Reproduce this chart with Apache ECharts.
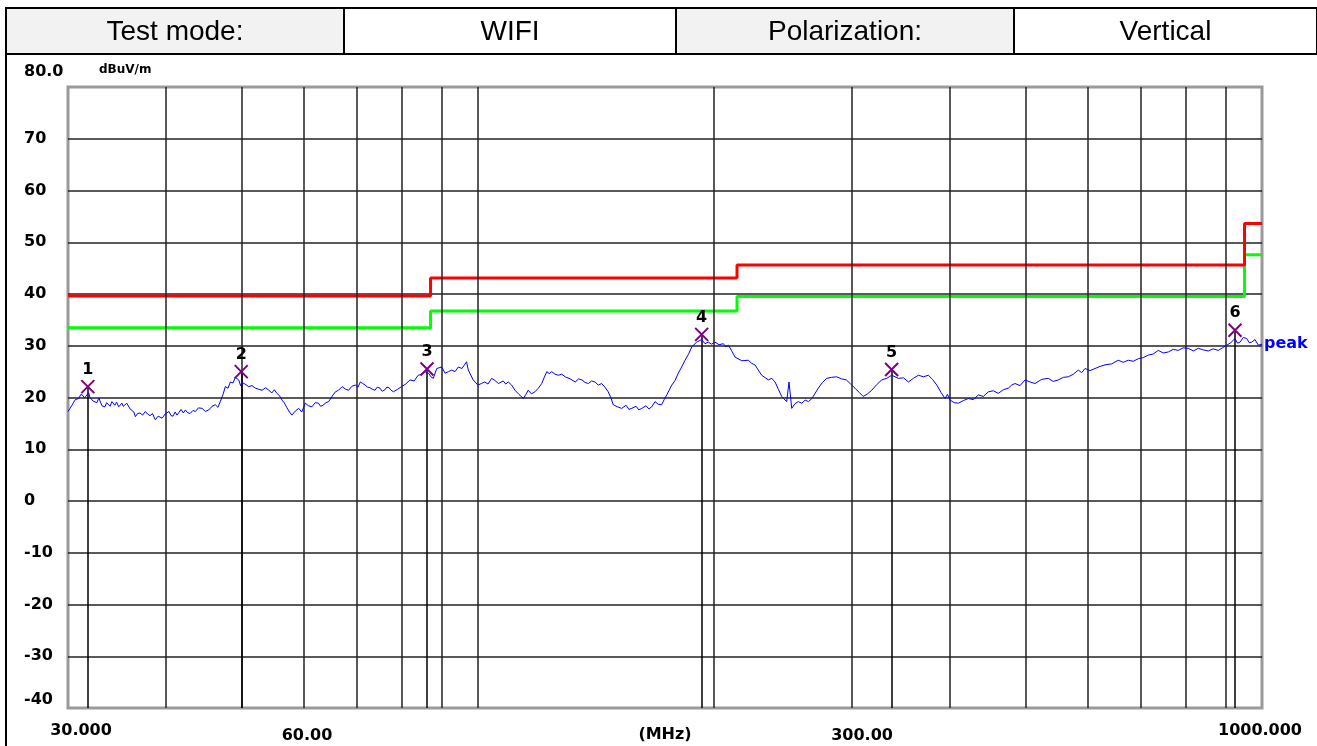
<!DOCTYPE html>
<html>
<head>
<meta charset="utf-8">
<title>Radiated emission - vertical</title>
<script src="https://cdn.jsdelivr.net/npm/echarts@6/dist/echarts.min.js"></script>
<style>
	html, body { margin: 0; padding: 0; background: #fff; }
	#main { width: 1317px; height: 746px; }
</style>
</head>
<body>
<div id="main"></div>
<script>
// header table
var headTexts = ['Test mode:', 'WIFI', 'Polarization:', 'Vertical'];

// axes
var yTicks = [80, 70, 60, 50, 40, 30, 20, 10, 0, -10, -20, -30, -40];
var xTickFreq = [30, 60, 300, 1000];
var xTickText = ['30.000', '60.00', '300.00', '1000.000'];
var gridFreq = [40, 50, 60, 70, 80, 90, 100, 200, 300, 400, 500, 600, 700, 800, 900];

// limit lines (red = limit, green = margin)
var limitFreq = [30, 87, 87, 214, 214, 950, 950, 1000];
var redLimit = [39.6, 39.6, 43.1, 43.1, 45.6, 45.6, 53.6, 53.6];
var greenLimit = [33.5, 33.5, 36.7, 36.7, 39.5, 39.5, 47.6, 47.6];

// peak trace, MHz / dBuV/m
var traceFreq = [
	30.0, 30.18, 30.35, 30.65, 30.96, 31.15, 31.34, 31.48, 31.62, 31.88,
	32.0, 32.15, 32.3, 32.45, 32.65, 32.85, 33.0, 33.15, 33.44, 33.6,
	33.74, 33.95, 34.13, 34.43, 34.6, 34.82, 35.15, 35.3, 35.46, 35.65,
	35.86, 36.0, 36.21, 36.4, 36.57, 36.8, 37.06, 37.35, 37.65, 37.9,
	38.17, 38.45, 38.77, 39.1, 39.55, 39.9, 40.35, 40.6, 40.84, 41.1,
	41.32, 41.55, 41.81, 42.1, 42.35, 42.6, 42.93, 43.3, 43.61, 44.0,
	44.48, 44.9, 45.36, 45.8, 46.24, 46.6, 46.92, 47.3, 47.62, 48.0,
	48.33, 48.7, 49.04, 49.3, 49.53, 49.8, 50.0, 50.45, 50.7, 51.0,
	51.5, 52.0, 52.5, 53.05, 53.6, 54.1, 54.6, 55.0, 55.4, 55.8,
	56.25, 56.6, 57.07, 57.5, 57.9, 58.5, 59.06, 59.6, 60.23, 60.8,
	61.4, 62.0, 62.6, 63.0, 63.44, 64.0, 64.5, 65.2, 65.8, 66.4,
	67.1, 67.8, 68.4, 69.1, 69.75, 70.3, 70.8, 71.3, 71.8, 72.3,
	72.8, 73.3, 73.9, 74.4, 75.0, 75.5, 76.1, 76.5, 77.0, 77.5,
	78.0, 79.0, 79.9, 80.9, 81.9, 82.9, 83.9, 84.8, 85.6, 86.6,
	87.1, 87.7, 88.6, 89.9, 90.8, 91.7, 92.6, 93.5, 94.4, 95.4,
	96.0, 96.7, 97.2, 98.6, 100.0, 101.0, 102.0, 103.0, 104.1, 105.1,
	106.2, 107.7, 108.5, 109.3, 110.4, 111.5, 112.8, 114.3, 115.1, 115.9,
	117.0, 118.2, 119.4, 120.6, 121.5, 122.4, 123.3, 124.2, 125.4, 126.6,
	127.9, 129.2, 131.1, 133.1, 134.4, 135.7, 137.0, 138.3, 139.6, 141.0,
	142.4, 143.8, 145.2, 146.6, 147.7, 148.8, 150.6, 152.5, 154.5, 155.8,
	157.1, 159.1, 160.4, 161.8, 163.8, 165.2, 166.6, 168.2, 169.8, 171.5,
	172.8, 174.1, 176.7, 178.4, 180.1, 181.9, 183.7, 185.5, 187.4, 190.1,
	192.9, 194.8, 196.7, 198.6, 200.6, 203.0, 205.6, 207.0, 208.7, 210.7,
	212.8, 217.0, 221.2, 223.4, 225.6, 227.8, 230.1, 234.6, 237.0, 239.3,
	241.6, 244.0, 247.6, 249.3, 251.3, 253.7, 256.2, 258.8, 261.4, 264.0,
	266.6, 271.7, 275.0, 278.5, 282.6, 286.8, 290.9, 295.0, 298.8, 302.6,
	306.3, 310.0, 313.9, 317.9, 322.6, 327.4, 332.2, 337.1, 343.7, 349.0,
	354.0, 359.2, 364.5, 370.0, 375.4, 380.0, 384.8, 389.5, 394.2, 397.0,
	400.0, 405.0, 409.9, 416.0, 422.1, 428.4, 434.8, 441.2, 447.7, 454.3,
	461.0, 467.8, 474.7, 479.4, 484.2, 491.4, 498.7, 506.0, 513.5, 523.6,
	533.9, 541.8, 549.8, 558.0, 566.2, 574.6, 583.1, 588.9, 594.7, 603.5,
	612.4, 621.4, 630.6, 643.0, 655.6, 665.3, 675.2, 685.2, 695.3, 705.6,
	716.0, 726.6, 737.4, 748.3, 759.4, 770.6, 782.0, 793.6, 805.3, 817.2,
	829.3, 841.6, 854.0, 866.6, 879.5, 890.4, 901.5, 912.6, 923.8, 930.6,
	937.4, 946.7, 956.0, 963.1, 970.2, 979.7, 989.2, 1000.0
];
var traceLevel = [
	17.3, 17.9, 18.5, 19.6, 19.8, 20.6, 20.4, 19.9, 20.1, 20.9,
	20.0, 20.2, 19.3, 19.5, 19.0, 19.9, 19.1, 18.4, 18.2, 19.0,
	18.8, 18.3, 19.2, 18.5, 19.1, 18.2, 18.9, 18.3, 18.0, 18.9,
	18.6, 17.8, 17.5, 17.2, 16.3, 16.9, 17.0, 16.6, 17.3, 16.8,
	16.5, 16.9, 15.7, 16.4, 16.0, 16.8, 17.3, 16.5, 16.4, 17.2,
	16.6, 17.1, 17.7, 17.0, 17.6, 17.1, 16.9, 17.5, 17.3, 18.0,
	17.9, 17.3, 17.6, 18.3, 18.6, 18.1, 19.2, 20.6, 22.1, 21.8,
	23.0, 22.8, 23.9, 24.2, 23.4, 22.3, 22.9, 22.6, 22.9, 22.1,
	22.3, 21.8, 21.6, 21.4, 21.9, 21.4, 20.9, 21.5, 20.8, 20.4,
	19.5, 19.0, 18.0, 17.2, 16.6, 17.4, 17.9, 17.2, 18.9, 18.4,
	18.2, 19.0, 18.9, 18.3, 18.5, 19.0, 19.2, 20.3, 21.1, 21.4,
	22.1, 21.6, 21.4, 22.2, 22.4, 22.0, 23.0, 22.7, 22.4, 22.0,
	21.9, 21.6, 21.4, 22.0, 21.8, 21.2, 21.5, 22.0, 21.9, 21.4,
	21.1, 21.6, 22.1, 22.6, 23.4, 23.2, 24.3, 24.5, 25.0, 24.6,
	24.0, 23.7, 25.6, 25.9, 24.7, 25.0, 25.3, 25.0, 25.9, 25.6,
	26.2, 26.9, 25.3, 23.4, 22.4, 22.7, 23.0, 22.6, 23.7, 23.3,
	22.7, 23.2, 22.6, 23.0, 22.4, 21.4, 20.6, 19.8, 20.6, 21.4,
	20.7, 21.1, 21.8, 22.7, 23.9, 25.0, 24.6, 25.0, 24.5, 24.3,
	24.5, 24.0, 23.6, 23.0, 23.6, 23.4, 22.9, 22.7, 23.2, 23.0,
	22.4, 22.7, 22.0, 21.1, 20.0, 18.6, 18.2, 17.9, 18.5, 17.7,
	17.9, 18.3, 17.6, 17.9, 18.4, 17.8, 18.2, 19.2, 18.7, 18.6,
	19.6, 20.5, 22.4, 23.3, 24.7, 25.9, 27.2, 28.3, 29.8, 30.7,
	31.2, 30.4, 30.7, 30.3, 30.7, 30.2, 30.4, 29.8, 30.1, 29.0,
	27.8, 27.1, 27.2, 26.6, 26.3, 25.3, 24.3, 23.4, 23.7, 23.0,
	21.6, 20.2, 19.2, 23.0, 17.9, 18.8, 19.2, 18.9, 19.5, 19.2,
	19.8, 21.8, 22.9, 23.7, 23.9, 24.0, 23.6, 23.4, 22.6, 21.8,
	21.0, 20.2, 20.7, 21.4, 22.5, 23.4, 23.7, 24.3, 23.7, 23.8,
	23.0, 23.7, 24.3, 24.0, 24.3, 23.5, 22.4, 21.0, 19.8, 20.6,
	19.5, 19.0, 18.9, 19.4, 19.8, 19.6, 20.5, 20.2, 21.1, 21.3,
	20.8, 21.5, 21.8, 22.4, 22.7, 22.3, 23.4, 23.0, 22.7, 23.5,
	23.7, 23.1, 23.4, 23.9, 24.0, 24.5, 25.3, 24.8, 25.6, 25.2,
	25.6, 26.0, 26.3, 26.5, 27.2, 26.8, 27.2, 27.0, 27.5, 27.7,
	28.2, 28.4, 29.1, 28.6, 28.8, 29.3, 29.1, 29.6, 29.5, 29.0,
	29.5, 29.2, 29.0, 29.4, 29.1, 29.6, 30.1, 30.6, 31.4, 30.5,
	30.7, 31.6, 31.4, 30.6, 30.7, 31.2, 30.1, 30.3
];

// markers
var markerNo = ['1', '2', '3', '4', '5', '6'];
var markerFreq = [31.8, 49.9, 86.1, 192.9, 337.0, 923.8];
var markerLevel = [22.1, 25.0, 25.5, 32.2, 25.4, 33.0];

var FONT = 'DejaVu Sans';

function pairs(xs, ys) {
	var out = [];
	for (var i = 0; i < xs.length; i++) {
		out.push([xs[i], ys[i]]);
	}
	return out;
}

var myChart = echarts.init(document.getElementById('main'), null, { renderer: 'canvas' });

// header cells
var cellX = [6, 344, 676, 1014, 1317];
var headGraphics = [];
for (var i = 0; i < headTexts.length; i++) {
	headGraphics.push({
		type: 'rect',
		shape: { x: cellX[i], y: 8, width: cellX[i + 1] - cellX[i], height: 46 },
		style: { fill: i % 2 == 0 ? '#f2f2f2' : '#fff', stroke: '#000', lineWidth: 2 }
	});
	headGraphics.push({
		type: 'text',
		x: (cellX[i] + cellX[i + 1]) / 2,
		y: 32,
		style: {
			text: headTexts[i], fill: '#000', font: '28px "Liberation Sans", Arial, sans-serif',
			align: 'center', verticalAlign: 'middle'
		}
	});
}
// left frame line of the page
headGraphics.push({
	type: 'line',
	shape: { x1: 6, y1: 8, x2: 6, y2: 746 },
	style: { stroke: '#000', lineWidth: 2 }
});
headGraphics.push({
	type: 'text', x: 24, y: 72,
	style: { text: '80.0', fill: '#000', font: 'bold 16px "DejaVu Sans"', verticalAlign: 'middle' }
});
headGraphics.push({
	type: 'text', x: 99, y: 70,
	style: { text: 'dBuV/m', fill: '#000', font: 'bold 12px "DejaVu Sans"', verticalAlign: 'middle' }
});

myChart.setOption({
	animation: false,
	backgroundColor: '#fff',
	grid: {
		left: 68, right: 55, top: 87, bottom: 38, outerBoundsMode: 'none', containLabel: false,
		show: true, borderColor: '#9a9a9a', borderWidth: 3, backgroundColor: '#fff'
	},
	xAxis: {
		type: 'log', logBase: 10, min: 30, max: 1000,
		name: '(MHz)', nameLocation: 'middle', nameGap: 19,
		nameTextStyle: { color: '#000', fontWeight: 'bold', fontSize: 16, fontFamily: FONT },
		axisLine: { show: false }, axisTick: { show: false },
		axisLabel: { show: false }, splitLine: { show: false }
	},
	yAxis: {
		type: 'value', min: -40, max: 80, interval: 10,
		axisLine: { show: false }, axisTick: { show: false },
		splitLine: { show: true, showMinLine: false, showMaxLine: false, lineStyle: { color: '#222', width: 1.5 } },
		axisLabel: {
			align: 'left', margin: 44, color: '#000', fontWeight: 'bold', fontSize: 16, fontFamily: FONT,
			formatter: function(v) {
				if (v == 80) return '';
				if (v == -40) return '{up|-40}';
				return '' + v;
			},
			rich: { up: { padding: [0, 0, 16, 0], color: '#000', fontWeight: 'bold', fontSize: 16, fontFamily: FONT } }
		}
	},
	graphic: headGraphics,
	series: [
		{
			// vertical grid lines
			type: 'line', data: [], z: 1, silent: true,
			markLine: {
				silent: true, symbol: ['none', 'none'], label: { show: false },
				lineStyle: { color: '#222', width: 1.5, type: 'solid' },
				data: gridFreq.map(function(f) { return { xAxis: f }; })
			}
		},
		{
			name: 'margin', type: 'line', z: 3, showSymbol: false, silent: true,
			data: pairs(limitFreq, greenLimit),
			lineStyle: { color: '#00ff00', width: 3 }
		},
		{
			name: 'limit', type: 'line', z: 4, showSymbol: false, silent: true,
			data: pairs(limitFreq, redLimit),
			lineStyle: { color: '#ff0000', width: 3 }
		},
		{
			name: 'peak', type: 'line', z: 5, showSymbol: false, silent: true,
			data: pairs(traceFreq, traceLevel),
			lineStyle: { color: '#0000ff', width: 1 },
			endLabel: { show: true, formatter: 'peak', color: '#0000ff', fontWeight: 'bold', fontSize: 16, fontFamily: FONT, distance: 2 }
		},
		{
			name: 'markers', type: 'scatter', z: 6, silent: true,
			data: pairs(markerFreq, markerLevel),
			symbol: 'path://M0 0L10 10M10 0L0 10', symbolSize: 13,
			itemStyle: { color: 'none', borderColor: '#800080', borderWidth: 2, opacity: 1 },
			label: {
				show: true, position: 'top', distance: 0, color: '#000', fontWeight: 'bold', fontSize: 16, fontFamily: FONT,
				formatter: function(p) { return markerNo[p.dataIndex]; }
			},
			markLine: {
				silent: true, symbol: ['none', 'none'], label: { show: false },
				lineStyle: { color: '#000', width: 1.5, type: 'solid' },
				data: markerFreq.map(function(f, i) {
					return [{ coord: [f, markerLevel[i]] }, { coord: [f, -40] }];
				})
			}
		}
	]
});

// frequency labels under the axis
var tickOffset = [13, 3, 10, -2];
var tickY = [731, 736, 736, 731];
var tickGraphics = headGraphics.slice();
for (var k = 0; k < xTickFreq.length; k++) {
	var px = myChart.convertToPixel({ xAxisIndex: 0 }, xTickFreq[k]);
	tickGraphics.push({
		type: 'text', x: px + tickOffset[k], y: tickY[k],
		style: { text: xTickText[k], fill: '#000', font: 'bold 16px "DejaVu Sans"', align: 'center', verticalAlign: 'middle' }
	});
}
myChart.setOption({ graphic: tickGraphics });
</script>
</body>
</html>
